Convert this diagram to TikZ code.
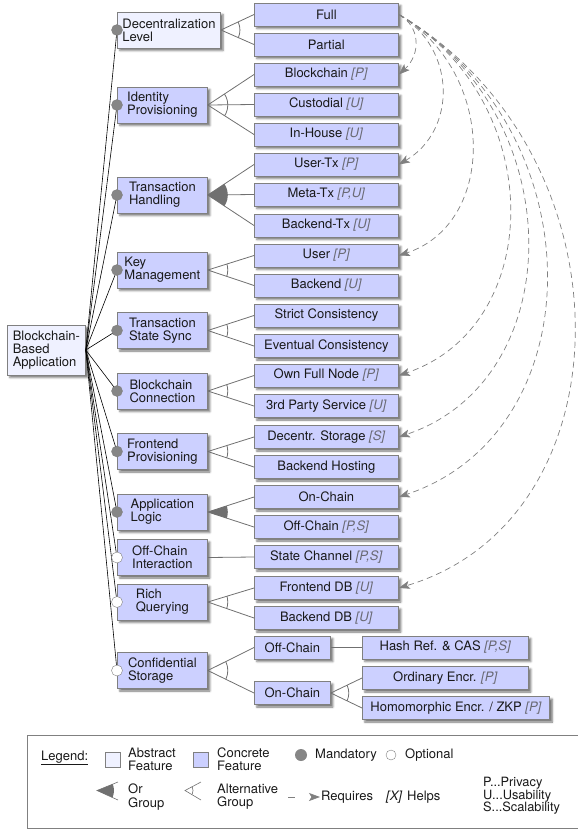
\documentclass[tikz,border=0pt]{standalone}
\usepackage{fontspec}
\setmainfont{TeX Gyre Heros}
\usepackage{tikz}
\usetikzlibrary{arrows.meta,shadows.blur}

\definecolor{concrete}{RGB}{204,208,255}
\definecolor{abstract}{RGB}{239,241,255}
\definecolor{boxline}{RGB}{128,128,128}
\definecolor{grpline}{RGB}{112,112,112}
\definecolor{helpgray}{RGB}{105,105,115}

\newcommand{\hlp}[1]{\textcolor{helpgray}{\textit{[#1]}}}
% alternative group: open arc between first and last child line
\newcommand{\altgrp}[4][19pt]{%
	\begin{scope}
		\clip (#2.east) -- (#3.west) -- (#4.west) -- cycle;
		\draw[grp] (#2.east) circle[radius=#1];
	\end{scope}}
% or group: filled sector
\newcommand{\orgrp}[4][20pt]{%
	\begin{scope}
		\clip (#2.east) -- (#3.west) -- (#4.west) -- cycle;
		\fill[grpline] (#2.east) circle[radius=#1];
	\end{scope}}

\tikzset{
	every node/.style={font=\fontsize{13}{13.2}\selectfont, text=black!90},
	feat/.style={draw=boxline, fill=concrete, line width=0.8pt, inner sep=0pt,
		blur shadow={shadow xshift=2.5pt, shadow yshift=-2.5pt, shadow blur radius=2pt, shadow opacity=55}},
	parent/.style={feat, anchor=west, minimum width=90pt, minimum height=36pt, inner xsep=5pt, align=left},
	leaf/.style={feat, anchor=west, minimum width=144pt, minimum height=23pt},
	mand/.style={circle, draw=boxline, fill=gray!95, inner sep=0pt, minimum size=11pt},
	opt/.style={mand, fill=white},
	grp/.style={draw=grpline, line width=0.8pt},
	req/.style={draw=gray, line width=0.7pt, dash pattern=on 6pt off 4pt,
		-{Stealth[length=11pt, width=8pt, inset=2.5pt]}},
}

\begin{document}
\begin{tikzpicture}[x=1pt, y=-1pt]
	\useasboundingbox (0,0) rectangle (578,831);

	% root
	\node[feat, fill=abstract, anchor=west, align=left, minimum width=78pt, minimum height=50pt] (app) at (7,350) {Blockchain-\\Based\\Application};

	% features
	\node[parent, fill=abstract] (declevel) at (117,30) {Decentralization\\Level};
	\node[parent] (idprov) at (117,105) {Identity\\Provisioning};
	\node[parent] (txhand) at (117,195) {Transaction\\Handling};
	\node[parent] (keymgmt) at (117,270) {Key\\Management};
	\node[parent] (txsync) at (117,330.5) {Transaction\\State Sync};
	\node[parent] (bcconn) at (117,391) {Blockchain\\Connection};
	\node[parent] (frontprov) at (117,451.5) {Frontend\\Provisioning};
	\node[parent] (applogic) at (117,512) {Application\\Logic};
	\node[parent] (offint) at (117,557.5) {Off-Chain\\Interaction};
	\node[parent] (richq) at (117,602) {Rich\\Querying};
	\node[parent] (confstore) at (117,670.5) {Confidential\\Storage};

	% sub-features
	\node[leaf] (full) at (254,14.5) {Full};
	\node[leaf] (partial) at (254,44.5) {Partial};
	\node[leaf] (bcid) at (254,74.5) {Blockchain \hlp{P}};
	\node[leaf] (custodial) at (254,104.5) {Custodial \hlp{U}};
	\node[leaf] (inhouse) at (254,134.5) {In-House \hlp{U}};
	\node[leaf] (usertx) at (254,164.5) {User-Tx \hlp{P}};
	\node[leaf] (metatx) at (254,194.5) {Meta-Tx \hlp{P,U}};
	\node[leaf] (backendtx) at (254,225.5) {Backend-Tx \hlp{U}};
	\node[leaf] (keyuser) at (254,255.5) {User \hlp{P}};
	\node[leaf] (keybackend) at (254,285.5) {Backend \hlp{U}};
	\node[leaf] (strict) at (254,315.5) {Strict Consistency};
	\node[leaf] (eventual) at (254,346) {Eventual Consistency};
	\node[leaf] (ownnode) at (254,375.5) {Own Full Node \hlp{P}};
	\node[leaf] (thirdparty) at (254,406) {3rd Party Service \hlp{U}};
	\node[leaf] (decstorage) at (254,437) {Decentr. Storage \hlp{S}};
	\node[leaf] (backhost) at (254,467) {Backend Hosting};
	\node[leaf] (onchain) at (254,497) {On-Chain};
	\node[leaf] (offchain) at (254,527) {Off-Chain \hlp{P,S}};
	\node[leaf] (statechan) at (254,557) {State Channel \hlp{P,S}};
	\node[leaf] (frontdb) at (254,588) {Frontend DB \hlp{U}};
	\node[leaf] (backdb) at (254,618) {Backend DB \hlp{U}};
	\node[leaf, minimum width=76pt] (offstore) at (254,647.5) {Off-Chain};
	\node[leaf, minimum width=76pt] (onstore) at (254,693) {On-Chain};
	\node[leaf, minimum width=166pt] (hashref) at (362,647.5) {Hash Ref. \& CAS \hlp{P,S}};
	\node[leaf, minimum width=166pt] (ordinary) at (362,678) {Ordinary Encr. \hlp{P}};
	\node[leaf, inner xsep=8pt] (homomorph) at (362,708) {Homomorphic Encr. / ZKP \hlp{P}};

	% root edges
	\draw[line width=0.6pt] (app.east) -- (declevel.west);
	\draw[line width=0.6pt] (app.east) -- (idprov.west);
	\draw[line width=0.6pt] (app.east) -- (txhand.west);
	\draw[line width=0.6pt] (app.east) -- (keymgmt.west);
	\draw[line width=0.6pt] (app.east) -- (txsync.west);
	\draw[line width=0.6pt] (app.east) -- (bcconn.west);
	\draw[line width=0.6pt] (app.east) -- (frontprov.west);
	\draw[line width=0.6pt] (app.east) -- (applogic.west);
	\draw[line width=0.6pt] (app.east) -- (offint.west);
	\draw[line width=0.6pt] (app.east) -- (richq.west);
	\draw[line width=0.6pt] (app.east) -- (confstore.west);
	\node[mand] (m1) at (declevel.west) {};
	\node[mand] (m2) at (idprov.west) {};
	\node[mand] (m3) at (txhand.west) {};
	\node[mand] (m4) at (keymgmt.west) {};
	\node[mand] (m5) at (txsync.west) {};
	\node[mand] (m6) at (bcconn.west) {};
	\node[mand] (m7) at (frontprov.west) {};
	\node[mand] (m8) at (applogic.west) {};
	\node[opt] (o1) at (offint.west) {};
	\node[opt] (o2) at (richq.west) {};
	\node[opt] (o3) at (confstore.west) {};

	% groups
	\draw[grp] (declevel.east) -- (full.west);
	\draw[grp] (declevel.east) -- (partial.west);
	\altgrp{declevel}{full}{partial}
	\draw[grp] (idprov.east) -- (bcid.west);
	\draw[grp] (idprov.east) -- (custodial.west);
	\draw[grp] (idprov.east) -- (inhouse.west);
	\altgrp[20pt]{idprov}{bcid}{inhouse}
	\draw[grp] (txhand.east) -- (usertx.west);
	\draw[grp] (txhand.east) -- (metatx.west);
	\draw[grp] (txhand.east) -- (backendtx.west);
	\orgrp{txhand}{usertx}{backendtx}
	\draw[grp] (keymgmt.east) -- (keyuser.west);
	\draw[grp] (keymgmt.east) -- (keybackend.west);
	\altgrp[20pt]{keymgmt}{keyuser}{keybackend}
	\draw[grp] (txsync.east) -- (strict.west);
	\draw[grp] (txsync.east) -- (eventual.west);
	\altgrp[20pt]{txsync}{strict}{eventual}
	\draw[grp] (bcconn.east) -- (ownnode.west);
	\draw[grp] (bcconn.east) -- (thirdparty.west);
	\altgrp[20pt]{bcconn}{ownnode}{thirdparty}
	\draw[grp] (frontprov.east) -- (decstorage.west);
	\draw[grp] (frontprov.east) -- (backhost.west);
	\altgrp[20pt]{frontprov}{decstorage}{backhost}
	\draw[grp] (applogic.east) -- (onchain.west);
	\draw[grp] (applogic.east) -- (offchain.west);
	\orgrp{applogic}{onchain}{offchain}
	\draw[grp] (offint.east) -- (statechan.west);
	\draw[grp] (richq.east) -- (frontdb.west);
	\draw[grp] (richq.east) -- (backdb.west);
	\altgrp[20pt]{richq}{frontdb}{backdb}
	\draw[grp] (confstore.east) -- (offstore.west);
	\draw[grp] (confstore.east) -- (onstore.west);
	\altgrp[20pt]{confstore}{offstore}{onstore}
	\draw[grp] (offstore.east) -- (hashref.west);
	\draw[grp] (onstore.east) -- (ordinary.west);
	\draw[grp] (onstore.east) -- (homomorph.west);
	\altgrp[18pt]{onstore}{ordinary}{homomorph}

	% requires
	\draw[req] (full.east) .. controls +(22,12) and +(22,-20) .. (bcid.east);
	\draw[req] (full.east) .. controls +(58,34) and +(58,-34) .. (usertx.east);
	\draw[req] (full.east) .. controls +(98,58) and +(98,-32) .. (keyuser.east);
	\draw[req] (full.east) .. controls +(148,86) and +(148,-50) .. (ownnode.east);
	\draw[req] (full.east) .. controls +(172,100) and +(172,-58) .. (decstorage.east);
	\draw[req] (full.east) .. controls +(197,115) and +(197,-66) .. (onchain.east);
	\draw[req] (full.east) .. controls +(234,137) and +(234,-70) .. (frontdb.east);

	% legend
	\draw[draw=boxline, line width=0.8pt] (578,735) -- (27,735) -- (27,828) -- (578,828);
	\node[anchor=base west, inner sep=0pt] (lgd) at (41,760) {\underline{Legend:}};
	\draw[draw=boxline, fill=abstract] (105,752) rectangle (120,767);
	\node[anchor=west, align=left, inner sep=0pt] (labs) at (128,759.5) {Abstract\\Feature};
	\draw[draw=boxline, fill=concrete] (193,752) rectangle (208,767);
	\node[anchor=west, align=left, inner sep=0pt] (lcon) at (217,759.5) {Concrete\\Feature};
	\fill[gray!95] (301,755) circle[radius=6pt];
	\node[anchor=west, inner sep=0pt] (lmand) at (315,755) {Mandatory};
	\draw[draw=boxline, fill=white] (391,755) circle[radius=5pt];
	\node[anchor=west, inner sep=0pt] (lopt) at (405,755) {Optional};

	\draw[grpline, line width=0.6pt] (118,782) -- (97,790.5) -- (118,800);
	\begin{scope}
		\clip (97,790.5) -- (118,782) -- (118,800) -- cycle;
		\fill[grpline] (97,790.5) circle[radius=17pt];
	\end{scope}
	\node[anchor=west, align=left, inner sep=0pt] (lor) at (128,797) {Or\\Group};
	\draw[grpline, line width=0.6pt] (201,782) -- (185,790.5) -- (201,800);
	\begin{scope}
		\clip (185,790.5) -- (201,782) -- (201,800) -- cycle;
		\draw[grpline, line width=0.6pt] (185,790.5) circle[radius=8pt];
	\end{scope}
	\node[anchor=west, align=left, inner sep=0pt] (lalt) at (217,797) {Alternative\\Group};
	\draw[req, dash pattern=on 7pt off 20pt] (288,797) -- (320,797);
	\node[anchor=west, inner sep=0pt] (lreq) at (321,797) {Requires};
	\node[anchor=west, inner sep=0pt] (lhx) at (386,797) {\textit{[X]}};
	\node[anchor=west, inner sep=0pt] (lhelp) at (407,797) {Helps};
	\node[anchor=west, align=left, inner sep=0pt, font=\fontsize{12.8}{12.5}\selectfont] (lkey) at (483,796) {P...Privacy\\U...Usability\\S...Scalability};
\end{tikzpicture}
\end{document}
